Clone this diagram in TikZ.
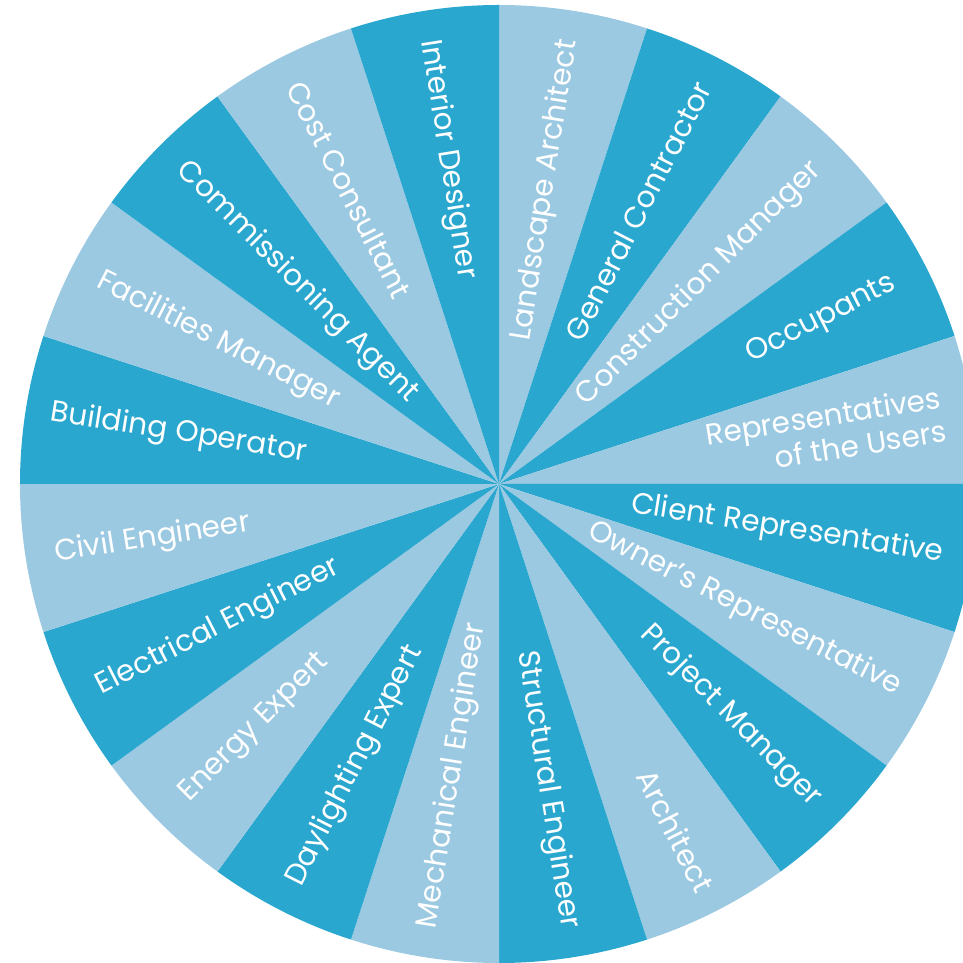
\documentclass[tikz,border=0pt]{standalone}
\usepackage{fontspec}
\setmainfont{Poppins}
\definecolor{roledark}{HTML}{2AA7CF}
\definecolor{rolelight}{HTML}{9BC9E2}

\begin{document}
\begin{tikzpicture}[
         role/.style = {text=white, inner sep=0pt,
         font=\fontsize{14.8}{17}\selectfont},
         outward/.style = {role, anchor=east},
         inward/.style = {role, anchor=west}
]
      \clip (-249.5pt,-239.5pt) rectangle (232pt,242pt);

      % twenty slices of 18 degrees, starting at the top
      \fill[rolelight] (0,0) -- (90:239.5pt) arc[start angle=90, end angle=72, radius=239.5pt] -- cycle;
      \fill[roledark]  (0,0) -- (72:239.5pt) arc[start angle=72, end angle=54, radius=239.5pt] -- cycle;
      \fill[rolelight] (0,0) -- (54:239.5pt) arc[start angle=54, end angle=36, radius=239.5pt] -- cycle;
      \fill[roledark]  (0,0) -- (36:239.5pt) arc[start angle=36, end angle=18, radius=239.5pt] -- cycle;
      \fill[rolelight] (0,0) -- (18:239.5pt) arc[start angle=18, end angle=0, radius=239.5pt] -- cycle;
      \fill[roledark]  (0,0) -- (0:239.5pt) arc[start angle=0, end angle=-18, radius=239.5pt] -- cycle;
      \fill[rolelight] (0,0) -- (-18:239.5pt) arc[start angle=-18, end angle=-36, radius=239.5pt] -- cycle;
      \fill[roledark]  (0,0) -- (-36:239.5pt) arc[start angle=-36, end angle=-54, radius=239.5pt] -- cycle;
      \fill[rolelight] (0,0) -- (-54:239.5pt) arc[start angle=-54, end angle=-72, radius=239.5pt] -- cycle;
      \fill[roledark]  (0,0) -- (-72:239.5pt) arc[start angle=-72, end angle=-90, radius=239.5pt] -- cycle;
      \fill[rolelight] (0,0) -- (-90:239.5pt) arc[start angle=-90, end angle=-108, radius=239.5pt] -- cycle;
      \fill[roledark]  (0,0) -- (-108:239.5pt) arc[start angle=-108, end angle=-126, radius=239.5pt] -- cycle;
      \fill[rolelight] (0,0) -- (-126:239.5pt) arc[start angle=-126, end angle=-144, radius=239.5pt] -- cycle;
      \fill[roledark]  (0,0) -- (-144:239.5pt) arc[start angle=-144, end angle=-162, radius=239.5pt] -- cycle;
      \fill[rolelight] (0,0) -- (-162:239.5pt) arc[start angle=-162, end angle=-180, radius=239.5pt] -- cycle;
      \fill[roledark]  (0,0) -- (180:239.5pt) arc[start angle=180, end angle=162, radius=239.5pt] -- cycle;
      \fill[rolelight] (0,0) -- (162:239.5pt) arc[start angle=162, end angle=144, radius=239.5pt] -- cycle;
      \fill[roledark]  (0,0) -- (144:239.5pt) arc[start angle=144, end angle=126, radius=239.5pt] -- cycle;
      \fill[rolelight] (0,0) -- (126:239.5pt) arc[start angle=126, end angle=108, radius=239.5pt] -- cycle;
      \fill[roledark]  (0,0) -- (108:239.5pt) arc[start angle=108, end angle=90, radius=239.5pt] -- cycle;

      % right half: text runs out from the hub
      \node[outward, rotate=81]  (r00) at (81:225pt) {Landscape Architect};
      \node[outward, rotate=63]  (r01) at (63:225pt) {General Contractor};
      \node[outward, rotate=45]  (r02) at (45:225pt) {Construction Manager};
      \node[outward, rotate=27]  (r03) at (27:222pt) {Occupants};
      \node[outward, rotate=9, align=right] (r04) at (9:225pt) {Representatives\\of the Users};
      \node[outward, rotate=-9]  (r05) at (-9:225pt) {Client Representative};
      \node[outward, rotate=-27] (r06) at (-27:225pt) {Owner’s Representative};
      \node[outward, rotate=-45] (r07) at (-45:225pt) {Project Manager};
      \node[outward, rotate=-63] (r08) at (-63:228pt) {Architect};
      \node[outward, rotate=-81] (r09) at (-81:225pt) {Structural Engineer};

      % left half: text runs in from the rim
      \node[inward, rotate=81]  (r10) at (261:225pt) {Mechanical Engineer};
      \node[inward, rotate=63]  (r11) at (243:225pt) {Daylighting Expert};
      \node[inward, rotate=45]  (r12) at (225:222pt) {Energy Expert};
      \node[inward, rotate=27]  (r13) at (207:225pt) {Electrical Engineer};
      \node[inward, rotate=9]   (r14) at (189:225pt) {Civil Engineer};
      \node[inward, rotate=-9]  (r15) at (171:227pt) {Building Operator};
      \node[inward, rotate=-27] (r16) at (153:225pt) {Facilities Manager};
      \node[inward, rotate=-45] (r17) at (135:225pt) {Commissioning Agent};
      \node[inward, rotate=-63] (r18) at (117:225pt) {Cost Consultant};
      \node[inward, rotate=-81] (r19) at (99:225pt) {Interior Designer};
\end{tikzpicture}
\end{document}
